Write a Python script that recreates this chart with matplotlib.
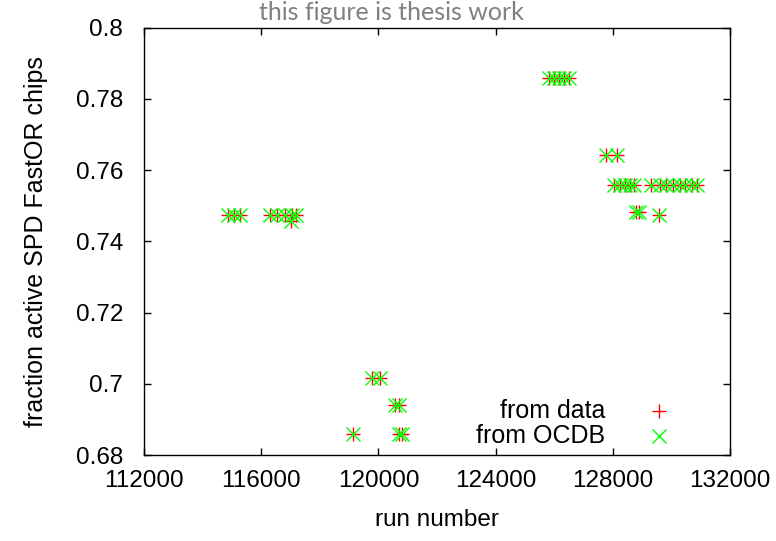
import matplotlib
matplotlib.use("Agg")
import matplotlib.pyplot as plt
from matplotlib.ticker import FixedLocator

# run numbers and fraction of active SPD FastOR chips (k/1200)
runs = [114860, 115070, 115270, 116300, 116540, 116810, 117050, 117180,
        117000,
        119780, 120050,
        120580, 120700,
        119120, 120720, 120790,
        125810, 125980, 126150, 126320, 126490,
        127760, 128130,
        128030, 128230, 128400, 128570, 128710,
        129320, 129600, 129830, 130040, 130280, 130480, 130690, 130890,
        128780, 128880,
        129560]
chips_active = [897, 897, 897, 897, 897, 897, 897, 897,
                895,
                842, 842,
                833, 833,
                823, 823, 823,
                943, 943, 943, 943, 943,
                917, 917,
                907, 907, 907, 907, 907,
                907, 907, 907, 907, 907, 907, 907, 907,
                898, 898,
                897]
total_chips = 1200
frac_data = [c / total_chips for c in chips_active]
frac_ocdb = [c / total_chips for c in chips_active]

xticks = [112000, 116000, 120000, 124000, 128000, 132000]
yticks = [0.68, 0.70, 0.72, 0.74, 0.76, 0.78, 0.80]
ytick_labels = ["0.68", "0.7", "0.72", "0.74", "0.76", "0.78", "0.8"]

plt.rcParams['font.family'] = ['Liberation Sans', 'DejaVu Sans']
FS = 18

fig = plt.figure(figsize=(7.76, 5.41), dpi=100)
ax = fig.add_axes([144/776, 1-455/541, (730-144)/776, (455-27.7)/541])

red = '#ff0000'
green = '#00ff00'
ax.plot(runs, frac_data, linestyle='none', marker='+', color=red,
        markersize=10, markeredgewidth=1.0)
ax.plot(runs, frac_ocdb, linestyle='none', marker='x', color=green,
        markersize=10, markeredgewidth=1.0)

ax.set_xlim(112000, 132000)
ax.set_ylim(0.68, 0.80)
ax.xaxis.set_major_locator(FixedLocator(xticks))
ax.set_xticklabels([str(t) for t in xticks])
ax.yaxis.set_major_locator(FixedLocator(yticks))
ax.set_yticklabels(ytick_labels)
ax.tick_params(direction='in', length=5, width=1, top=True, right=True,
               labelsize=FS - 0.5)
ax.tick_params(axis='x', pad=11)
ax.tick_params(axis='y', pad=15)
for s in ax.spines.values():
    s.set_linewidth(1.0)

ax.set_xlabel('run number', fontsize=FS - 0.5, labelpad=12)
ax.set_ylabel('fraction active SPD FastOR chips', fontsize=FS, labelpad=20)

# legend (gnuplot style: right-justified text, marker to the right)
ax.text(0.787, 0.1037, 'from data', transform=ax.transAxes, ha='right',
        va='center', fontsize=FS)
ax.text(0.787, 0.045, 'from OCDB', transform=ax.transAxes, ha='right',
        va='center', fontsize=FS)
ax.plot([0.879], [0.1037], transform=ax.transAxes, marker='+', color=red,
        markersize=10, markeredgewidth=1.0, clip_on=False, linestyle='none')
ax.plot([0.879], [0.045], transform=ax.transAxes, marker='x', color=green,
        markersize=10, markeredgewidth=1.0, clip_on=False, linestyle='none')

fig.text(391/776, 1-12/541, 'this figure is thesis work', ha='center',
         va='center', fontsize=18, color='#808080', family=['Lato', 'DejaVu Sans'])

fig.savefig('out.png', dpi=100)
